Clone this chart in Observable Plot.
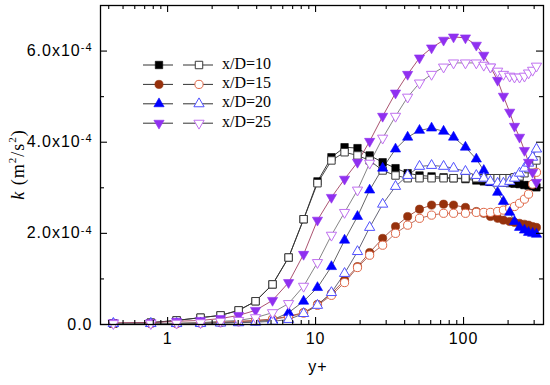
<!DOCTYPE html>
<html><head><meta charset="utf-8">
<script src="https://cdn.jsdelivr.net/npm/d3@7"></script>
<script src="https://cdn.jsdelivr.net/npm/@observablehq/plot@0.6"></script>
<style>
body{margin:0;background:#fff;}
#wrap{position:relative;width:550px;height:385px;background:#fff;}
#wrap svg{position:absolute;left:0;top:0;}
</style></head><body><div id="wrap"></div>
<script>
// y+ sample positions (shared by all cases)
const yPlus = [0.43,0.77,1.15,1.67,2.28,3.02,3.93,5.12,6.57,8.30,10.3,12.8,15.7,19.2,23.2,28.4,34.7,41.9,50.4,60.8,73.3,85.6,103,122,137,152,170,186,205,221,239,258,275,293,311];
// k in units of 1e-4 m^2/s^2
const k10Filled = [0.02,0.04,0.09,0.15,0.20,0.31,0.51,0.88,1.47,2.31,3.14,3.67,3.89,3.87,3.71,3.56,3.43,3.32,3.27,3.25,3.23,3.21,3.19,3.16,3.14,3.13,3.12,3.11,3.10,3.09,3.08,3.06,3.05,3.03,3.01];
const k10Open   = [0.02,0.04,0.09,0.15,0.20,0.31,0.51,0.88,1.47,2.31,3.10,3.60,3.78,3.71,3.60,3.38,3.27,3.21,3.21,3.21,3.21,3.21,3.21,3.21,3.21,3.21,3.21,3.21,3.21,3.23,3.25,3.32,3.41,3.49,3.60];
const k15Filled = [0.02,0.02,0.02,0.04,0.05,0.07,0.09,0.12,0.18,0.26,0.44,0.68,0.97,1.27,1.58,1.89,2.15,2.37,2.53,2.62,2.64,2.62,2.57,2.48,2.44,2.37,2.33,2.29,2.26,2.24,2.22,2.20,2.18,2.15,2.13];
const k15Open   = [0.02,0.02,0.02,0.03,0.04,0.06,0.08,0.11,0.17,0.25,0.42,0.64,0.92,1.25,1.52,1.74,2.00,2.18,2.33,2.40,2.44,2.44,2.44,2.46,2.46,2.46,2.48,2.51,2.55,2.59,2.66,2.75,2.86,3.08,3.34];
const k20Filled = [0.02,0.02,0.02,0.03,0.04,0.04,0.06,0.10,0.26,0.51,0.81,1.27,1.85,2.37,2.95,3.43,3.85,4.11,4.26,4.31,4.24,4.11,3.89,3.63,3.38,3.12,2.90,2.70,2.46,2.26,2.13,2.07,2.02,2.00,1.98];
const k20Open   = [0.02,0.02,0.02,0.02,0.03,0.04,0.05,0.07,0.11,0.24,0.42,0.70,1.12,1.60,2.13,2.64,3.03,3.27,3.47,3.49,3.47,3.43,3.36,3.27,3.21,3.14,3.10,3.10,3.14,3.21,3.32,3.43,3.54,3.67,3.85];
const k25Filled = [0.04,0.04,0.07,0.09,0.13,0.20,0.31,0.53,0.92,1.54,2.29,2.79,3.19,3.56,4.02,4.57,5.08,5.49,5.85,6.07,6.24,6.31,6.29,6.13,5.91,5.65,5.36,5.01,4.66,4.35,4.11,3.82,3.56,3.34,3.12];
const k25Open   = [0.02,0.02,0.03,0.04,0.07,0.09,0.15,0.26,0.46,0.84,1.36,1.96,2.46,2.95,3.54,4.09,4.57,4.99,5.30,5.49,5.65,5.74,5.74,5.74,5.69,5.65,5.56,5.49,5.45,5.43,5.43,5.45,5.52,5.58,5.67];

const caseNames = ["x/D=10","x/D=15","x/D=20","x/D=25"];
const xTicks = [1, 10, 100];
const xTickLabels = ["1", "10", "100"];
const xMinorTicks = [0.4,0.5,0.6,0.7,0.8,0.9,2,3,4,5,6,7,8,9,20,30,40,50,60,70,80,90,200,300];
const yTicks = [0, 2, 4, 6];
const yTickMantissa = ["0.0", "2.0x10", "4.0x10", "6.0x10"];
const yTickExponent = ["", "-4", "-4", "-4"];
const yMinorTicks = [1, 3, 5];
const xDomain = [0.352, 347];
const yDomain = [0, 7];

// symbol: downward triangle
const triangleDown = {
  draw(context, size) {
    const y = -Math.sqrt(size / (Math.sqrt(3) * 3));
    context.moveTo(0, -2 * y);
    context.lineTo(-Math.sqrt(3) * y, y);
    context.lineTo(Math.sqrt(3) * y, y);
    context.closePath();
  }
};

const series = [
  {name: caseNames[0], filled: true,  k: k10Filled, symbol: "square",   r: 4.2, color: "#000000", line: "#222222"},
  {name: caseNames[0], filled: false, k: k10Open,   symbol: "square",   r: 4.2, color: "#3a3a3a", line: "#333333"},
  {name: caseNames[1], filled: true,  k: k15Filled, symbol: "circle",   r: 4.1, color: "#96310c", line: "#a04a3a"},
  {name: caseNames[1], filled: false, k: k15Open,   symbol: "circle",   r: 4.1, color: "#e06848", line: "#b06050"},
  {name: caseNames[2], filled: true,  k: k20Filled, symbol: "triangle", r: 3.8, color: "#0000ff", line: "#555555"},
  {name: caseNames[2], filled: false, k: k20Open,   symbol: "triangle", r: 3.8, color: "#5050ff", line: "#555566"},
  {name: caseNames[3], filled: true,  k: k25Filled, symbol: triangleDown, r: 3.8, color: "#9030f0", line: "#a04060"},
  {name: caseNames[3], filled: false, k: k25Open,   symbol: triangleDown, r: 3.8, color: "#c070f0", line: "#777777"}
];

const tables = series.map(s => yPlus.map((x, i) => ({x, k: s.k[i]})));

const W = 550, H = 385, mL = 100, mR = 7, mT = 5, mB = 61;
const plotW = W - mL - mR, plotH = H - mT - mB;
const majorLen = 7, minorLen = 4;

const lineMarks = series.map((s, j) => Plot.line(tables[j], {x: "x", y: "k", stroke: s.line, strokeWidth: 0.9}));
const dotMarks = series.map((s, j) => Plot.dot(tables[j], {
  x: "x", y: "k", symbol: s.symbol, r: s.r,
  fill: s.filled ? s.color : "white",
  stroke: s.color, strokeWidth: s.filled ? 0.6 : 1
}));

const chart = Plot.plot({
  width: W, height: H,
  marginLeft: mL, marginRight: mR, marginTop: mT, marginBottom: mB,
  style: {fontFamily: "'Liberation Sans', Arial, sans-serif", fontSize: "16px", background: "white", color: "black"},
  x: {type: "log", domain: xDomain},
  y: {domain: yDomain},
  marks: [
    ...lineMarks,
    ...dotMarks,
    Plot.frame({stroke: "black", strokeWidth: 1.3}),
    // inward ticks: left, right, bottom, top
    Plot.tickY(yTicks, {y: d => d, insetRight: plotW - majorLen, stroke: "black", strokeWidth: 1.1}),
    Plot.tickY(yMinorTicks, {y: d => d, insetRight: plotW - minorLen, stroke: "black", strokeWidth: 1.1}),
    Plot.tickY(yTicks, {y: d => d, insetLeft: plotW - majorLen, stroke: "black", strokeWidth: 1.1}),
    Plot.tickY(yMinorTicks, {y: d => d, insetLeft: plotW - minorLen, stroke: "black", strokeWidth: 1.1}),
    Plot.tickX(xTicks, {x: d => d, insetTop: plotH - majorLen, stroke: "black", strokeWidth: 1.1}),
    Plot.tickX(xMinorTicks, {x: d => d, insetTop: plotH - minorLen, stroke: "black", strokeWidth: 1.1}),
    Plot.tickX(xTicks, {x: d => d, insetBottom: plotH - majorLen, stroke: "black", strokeWidth: 1.1}),
    Plot.tickX(xMinorTicks, {x: d => d, insetBottom: plotH - minorLen, stroke: "black", strokeWidth: 1.1}),
    Plot.axisX({ticks: xTicks, tickSize: 0, tickPadding: 8, label: null,
      tickFormat: d => xTickLabels[xTicks.indexOf(d)]}),
    Plot.axisY({ticks: yTicks, tickSize: 0, tickPadding: 8, label: null,
      tickFormat: d => yTickMantissa[yTicks.indexOf(d)]})
  ]
});

const wrap = document.getElementById("wrap");
wrap.appendChild(chart);
const svg = d3.select(chart);
svg.selectAll("text").style("letter-spacing", "1px");

// exponents on y tick labels
svg.selectAll('g[aria-label="y-axis tick label"] text').each(function() {
  const t = d3.select(this);
  const idx = yTickMantissa.indexOf(this.textContent.trim());
  if (idx >= 0 && yTickExponent[idx]) {
    t.append("tspan").attr("dy", "-0.45em").style("font-size", "11px").text(yTickExponent[idx]);
  }
});

// y axis title
const yl = svg.append("text")
  .attr("transform", `translate(20,${mT + plotH / 2}) rotate(-90)`)
  .attr("text-anchor", "middle")
  .attr("dominant-baseline", "middle")
  .style("font-family", "'Liberation Serif', 'Times New Roman', serif")
  .style("font-size", "18px")
  .style("letter-spacing", "1px");
yl.append("tspan").style("font-style", "italic").text("k");
yl.append("tspan").text(" (m");
yl.append("tspan").attr("dy", "-7").style("font-size", "11px").text("2");
yl.append("tspan").attr("dy", "7").text("/s");
yl.append("tspan").attr("dy", "-7").style("font-size", "11px").text("2");
yl.append("tspan").attr("dy", "7").text(")");

// x axis title
svg.append("text")
  .attr("x", 318).attr("y", 368)
  .attr("text-anchor", "middle").attr("dominant-baseline", "middle")
  .style("font-family", "'Liberation Sans', Arial, sans-serif")
  .style("font-size", "16px").style("letter-spacing", "1px")
  .text("y+");

// legend (inside plot area, top-left)
const legend = svg.append("g").attr("class", "legend").attr("text-anchor", "start");
const legY0 = 65, legDy = 19.4;
const symType = s => typeof s.symbol === "string"
  ? {square: d3.symbolSquare, circle: d3.symbolCircle, triangle: d3.symbolTriangle}[s.symbol]
  : s.symbol;
caseNames.forEach((name, i) => {
  const y = legY0 + i * legDy;
  const pair = series.filter(s => s.name === name);
  pair.forEach((s, j) => {
    const x0 = j === 0 ? 143 : 183, xm = j === 0 ? 159 : 199;
    legend.append("line").attr("x1", x0).attr("x2", x0 + 30).attr("y1", y).attr("y2", y)
      .attr("stroke", "#333").attr("stroke-width", 1);
    legend.append("path")
      .attr("transform", `translate(${xm},${y})`)
      .attr("d", d3.symbol().type(symType(s)).size(s.r * s.r * Math.PI)())
      .attr("fill", s.filled ? s.color : "white")
      .attr("stroke", s.color).attr("stroke-width", s.filled ? 0.6 : 1);
  });
  legend.append("text").attr("x", 222).attr("y", y)
    .attr("text-anchor", "start")
    .attr("dominant-baseline", "middle")
    .style("font-family", "'Liberation Serif', 'Times New Roman', serif")
    .style("font-size", "16px")
    .text(name);
});
</script>
</body></html>
